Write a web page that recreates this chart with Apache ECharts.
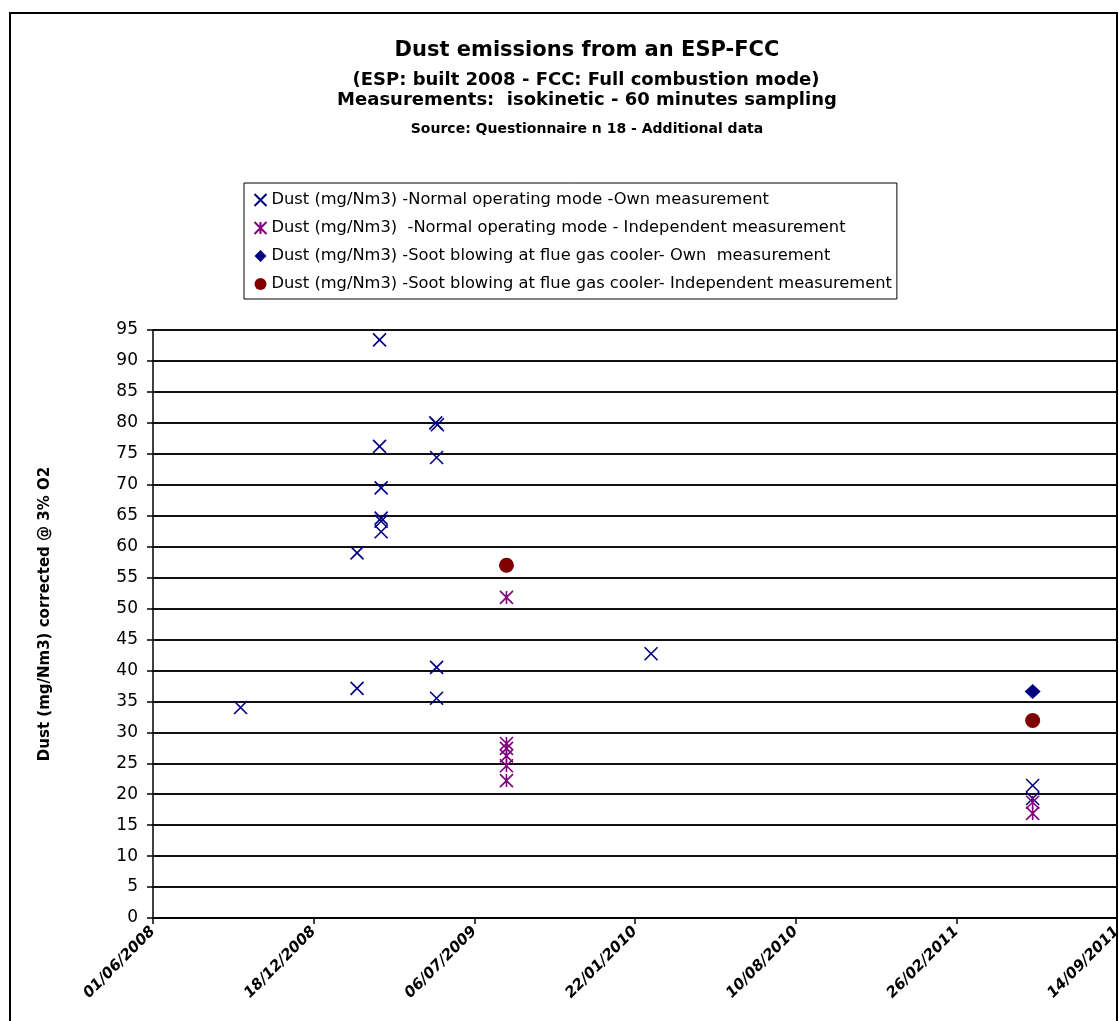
<!DOCTYPE html>
<html>
<head>
<meta charset="utf-8">
<title>Dust emissions from an ESP-FCC</title>
<script src="https://cdn.jsdelivr.net/npm/echarts@6/dist/echarts.min.js"></script>
<style>
  html, body { margin: 0; padding: 0; background: #fff; }
  #chart { width: 1119px; height: 1021px; }
</style>
</head>
<body>
<div id="chart"></div>
<script>
// Dates are spreadsheet day serials (days since 30/12/1899).
const xMin = 39600;      // 01/06/2008
const xMax = 40800;      // 14/09/2011
const xStep = 200;
const xTickLabels = ['01/06/2008', '18/12/2008', '06/07/2009', '22/01/2010',
                     '10/08/2010', '26/02/2011', '14/09/2011'];

// Normal operating mode - own measurement
const ownDates  = [39709, 39854, 39854, 39882, 39882, 39884, 39884, 39884, 39884,
                   39952, 39954, 39953, 39953, 39953, 40220, 40695, 40695];
const ownValues = [34.0, 37.1, 59.0, 93.4, 76.2, 69.5, 64.6, 64.1, 62.4,
                   80.0, 79.7, 74.4, 40.5, 35.5, 42.7, 21.4, 19.3];

// Normal operating mode - independent measurement
const indepDates  = [40040, 40040, 40040, 40040, 40040, 40040, 40695, 40695];
const indepValues = [51.8, 28.2, 27.4, 26.2, 24.6, 22.2, 18.7, 16.9];

// Soot blowing at flue gas cooler - own measurement
const sootOwnDates  = [40695];
const sootOwnValues = [36.6];

// Soot blowing at flue gas cooler - independent measurement
const sootIndepDates  = [40040, 40695];
const sootIndepValues = [57.0, 31.9];

const seriesNames = [
  'Dust (mg/Nm3) -Normal operating mode -Own measurement',
  'Dust (mg/Nm3)  -Normal operating mode - Independent measurement',
  'Dust (mg/Nm3) -Soot blowing at flue gas cooler- Own  measurement',
  'Dust (mg/Nm3) -Soot blowing at flue gas cooler- Independent measurement'
];

const titleLines = [
  'Dust emissions from an ESP-FCC',
  '(ESP: built 2008 - FCC: Full combustion mode)',
  'Measurements:  isokinetic - 60 minutes sampling',
  'Source: Questionnaire n 18 - Additional data'
];

function pairs(xs, ys) { return xs.map((x, i) => [x, ys[i]]); }

const FONT = 'DejaVu Sans';
const crossPath = 'path://M0,0L10,10M10,0L0,10';
const starPath = 'path://M0,0L10,10M10,0L0,10M5,0L5,10';

const chart = echarts.init(document.getElementById('chart'), null, { renderer: 'canvas' });

chart.setOption({
  backgroundColor: '#ffffff',
  animation: false,
  textStyle: { fontFamily: FONT, color: '#000' },
  title: [
    { text: titleLines[0], left: 582, top: 35, textAlign: 'center',
      textStyle: { fontFamily: FONT, fontWeight: 'bold', fontSize: 21, color: '#000' } },
    { text: titleLines[1], left: 581, top: 66, textAlign: 'center',
      textStyle: { fontFamily: FONT, fontWeight: 'bold', fontSize: 18, color: '#000' } },
    { text: titleLines[2], left: 582, top: 86, textAlign: 'center',
      textStyle: { fontFamily: FONT, fontWeight: 'bold', fontSize: 18, color: '#000' } },
    { text: titleLines[3], left: 582, top: 117, textAlign: 'center',
      textStyle: { fontFamily: FONT, fontWeight: 'bold', fontSize: 14, color: '#000' } }
  ],
  legend: {
    orient: 'vertical',
    left: 244,
    top: 183,
    padding: [8, 5, 6, 8],
    itemGap: 10,
    itemWidth: 12,
    itemHeight: 12,
    borderColor: '#000',
    borderWidth: 1,
    backgroundColor: '#fff',
    textStyle: { fontFamily: FONT, fontSize: 16.3, color: '#000', lineHeight: 18 },
    data: seriesNames
  },
  grid: { left: 153, right: 2, top: 330, bottom: 103, containLabel: false,
          outerBoundsMode: 'none' },
  xAxis: {
    type: 'value',
    min: xMin,
    max: xMax,
    interval: xStep,
    axisLine: { show: true, lineStyle: { color: '#000', width: 1.5 } },
    axisTick: { show: true, length: 6, lineStyle: { color: '#000', width: 1.5 } },
    splitLine: { show: false },
    axisLabel: {
      rotate: 45,
      margin: 11,
      fontFamily: FONT,
      fontSize: 15,
      fontWeight: 'bold',
      fontStyle: 'italic',
      color: '#000',
      showMaxLabel: true,
      showMinLabel: true,
      hideOverlap: false,
      formatter: v => xTickLabels[Math.round((v - xMin) / xStep)]
    }
  },
  yAxis: {
    type: 'value',
    min: 0,
    max: 95,
    interval: 5,
    name: 'Dust (mg/Nm3) corrected @ 3% O2',
    nameLocation: 'middle',
    nameGap: 100,
    nameTextStyle: { fontFamily: FONT, fontSize: 15, fontWeight: 'bold', color: '#000',
                     padding: [0, 0, 0, 20] },
    axisLine: { show: true, lineStyle: { color: '#000', width: 1.5 } },
    axisTick: { show: true, length: 6, lineStyle: { color: '#000', width: 1.5 } },
    axisLabel: { margin: 15, fontFamily: FONT, fontSize: 17, color: '#000' },
    splitLine: { show: true, lineStyle: { color: '#111', width: 2 } }
  },
  graphic: [
    { type: 'rect', silent: true, z: -1,
      shape: { x: 10, y: 13, width: 1107, height: 1040 },
      style: { fill: 'none', stroke: '#000', lineWidth: 2 } }
  ],
  series: [
    { name: seriesNames[0], type: 'scatter', symbol: crossPath, symbolSize: 13,
      itemStyle: { color: 'none', borderColor: '#000080', borderWidth: 1.6, opacity: 1 },
      data: pairs(ownDates, ownValues) },
    { name: seriesNames[1], type: 'scatter', symbol: starPath, symbolSize: 13,
      itemStyle: { color: 'none', borderColor: '#800080', borderWidth: 1.6, opacity: 1 },
      data: pairs(indepDates, indepValues) },
    { name: seriesNames[2], type: 'scatter', symbol: 'diamond', symbolSize: [16, 15],
      itemStyle: { color: '#000080', opacity: 1 },
      data: pairs(sootOwnDates, sootOwnValues) },
    { name: seriesNames[3], type: 'scatter', symbol: 'circle', symbolSize: 15,
      itemStyle: { color: '#800000', opacity: 1 },
      data: pairs(sootIndepDates, sootIndepValues) }
  ]
});
</script>
</body>
</html>
